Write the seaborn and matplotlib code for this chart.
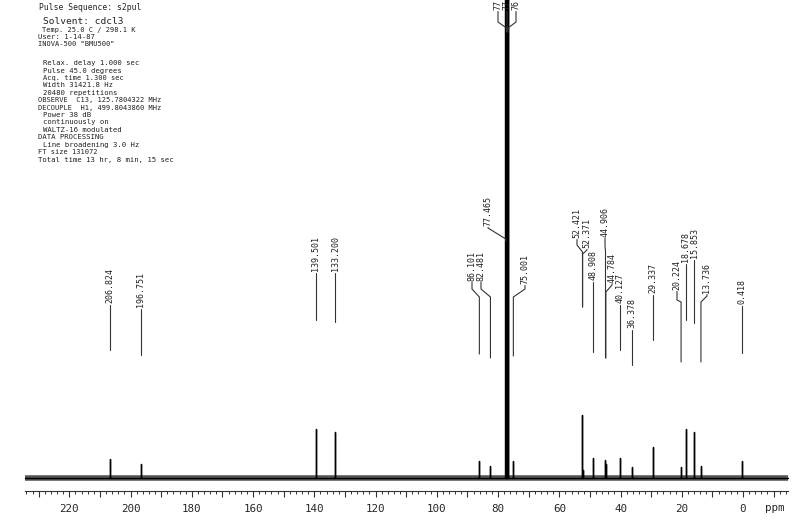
import numpy as np
import pandas as pd
import matplotlib
matplotlib.use('Agg')
import matplotlib.pyplot as plt
import seaborn as sns
from matplotlib.ticker import FixedLocator, FuncFormatter

shifts = [206.824, 196.751, 139.501, 133.200, 86.101, 82.481, 77.465, 77.254, 77.000,
          76.746, 75.001, 52.421, 52.371, 48.908, 44.906, 44.784, 40.127, 36.378,
          29.337, 20.224, 18.678, 15.853, 13.736, 0.418]
heights = [19, 14, 49, 46, 17, 12, 600, 600, 600, 600, 17, 63, 8, 20, 18, 14, 20, 11,
           31, 11, 49, 46, 12, 17]
solvent = [77.465, 77.254, 77.000, 76.746]
tick_labels = [220, 200, 180, 160, 140, 120, 100, 80, 60, 40, 20, 0]

header = ['Pulse Sequence: s2pul', 'Solvent: cdcl3', 'Temp. 25.0 C / 298.1 K', 'User: 1-14-87',
          'INOVA-500 "BMU500"', 'Relax. delay 1.000 sec', 'Pulse 45.0 degrees',
          'Acq. time 1.300 sec', 'Width 31421.8 Hz', '20480 repetitions',
          'OBSERVE  C13, 125.7804322 MHz', 'DECOUPLE  H1, 499.8043860 MHz', 'Power 38 dB',
          'continuously on', 'WALTZ-16 modulated', 'DATA PROCESSING',
          'Line broadening 3.0 Hz', 'FT size 131072', 'Total time 13 hr, 8 min, 15 sec']

# ---- layout (pixels da imagem) ----
header_pos = [(39, 8, 5.8), (43, 21, 6.8), (42, 30, 5.0), (38, 37, 5.2), (38, 44, 5.0),
              (43, 63, 5.2), (43, 71, 5.2), (43, 78, 5.0), (43, 85, 5.2), (43, 93, 5.2),
              (38, 100, 5.0), (38, 108, 5.0), (43, 115, 5.2), (43, 122, 5.2), (43, 130, 5.2),
              (38, 137, 5.2), (43, 145, 5.2), (38, 152, 5.0), (38, 160, 5.2)]
# shift: (x do rotulo ou None, base do texto, joelho1, joelho2, fim da linha)
label_layout = {
    206.824: (None, 303, None, None, 350), 196.751: (None, 307, None, None, 355),
    139.501: (None, 271, None, None, 320), 133.200: (None, 271, None, None, 322),
    86.101: (472, 281, 289, 297, 354), 82.481: (481, 281, 289, 297, 358),
    77.465: (488, 226, 228, 239, 241), 77.254: (498, 10, 22, 28, 32),
    77.000: (507, 10, 22, 28, 32), 76.746: (516, 10, 22, 28, 32),
    75.001: (525, 284, 289, 297, 356), 52.421: (577, 238, 245, 252, 307),
    52.371: (587, 248, 250, 254, 307), 48.908: (None, 280, None, None, 352),
    44.906: (605, 237, 246, 251, 358), 44.784: (612, 283, 285, 292, 358),
    40.127: (None, 303, None, None, 350), 36.378: (None, 328, None, None, 365),
    29.337: (None, 293, None, None, 340), 20.224: (677, 290, 300, 302, 362),
    18.678: (None, 262, None, None, 320), 15.853: (None, 258, None, None, 323),
    13.736: (707, 293, 296, 302, 362), 0.418: (None, 304, None, None, 353),
}
BASE_Y = 478
AXIS_Y = 491


def px_ppm(x):
    return (743 - x) / 3.062


def py_u(y):
    return BASE_Y - y


sns.set_style('white')
plt.rcParams['font.family'] = ['DejaVu Sans Mono']

fig = plt.figure(figsize=(8, 5.2), dpi=100)
ax = fig.add_axes([0, 0, 1, 1])

# traço do espectro (linhas de pico sobre a linha de base)
order = sorted(range(len(shifts)), key=lambda i: -shifts[i])
xs = [px_ppm(25)]
ys = [0]
for i in order:
    xs += [shifts[i], shifts[i], shifts[i]]
    ys += [0, heights[i], 0]
xs.append(px_ppm(788))
ys.append(0)
df = pd.DataFrame({'ppm': xs, 'intens': ys})

ax.hlines(0, px_ppm(788), px_ppm(25), color='#555555', lw=4.0)
sns.lineplot(data=df, x='ppm', y='intens', sort=False, estimator=None,
             color='black', lw=1.0, ax=ax)
ax.vlines(solvent, 0, 600, color='black', lw=1.6)

# rotulos dos picos
for s in shifts:
    lx, tb, k1, k2, end = label_layout[s]
    if lx is None:
        ax.plot([s, s], [py_u(tb + 1.5), py_u(end)], color='#333333', lw=0.8)
        xl = s
    else:
        xl = px_ppm(lx)
        ax.plot([xl, xl, s, s], [py_u(tb + 1.5), py_u(k1), py_u(k2), py_u(end)],
                color='#333333', lw=0.8)
    ax.text(xl, py_u(tb), f'{s:.3f}', rotation=90, ha='center', va='bottom',
            fontsize=6.0, color='#222222')

ax.set_xlim(px_ppm(0), px_ppm(800))
ax.set_ylim(py_u(520), py_u(0))
ax.set_xlabel('')
ax.set_ylabel('')
ax.set_yticks([])
for side in ['top', 'left', 'right']:
    ax.spines[side].set_visible(False)
ax.spines['bottom'].set_position(('data', py_u(AXIS_Y)))
ax.spines['bottom'].set_bounds(px_ppm(788), px_ppm(25))
ax.spines['bottom'].set_linewidth(0.8)
ax.spines['bottom'].set_color('#333333')
ax.xaxis.set_major_locator(FixedLocator(np.arange(-10, 231, 10)))
ax.xaxis.set_minor_locator(FixedLocator(np.arange(-14, 235, 2)))
ax.xaxis.set_major_formatter(FuncFormatter(
    lambda v, p: f'{int(round(v))}' if int(round(v)) in tick_labels else ''))
ax.tick_params(axis='x', which='major', direction='out', length=4, width=0.8,
               color='#333333', labelsize=7.8, pad=5, bottom=True)
ax.tick_params(axis='x', which='minor', direction='out', length=2.5, width=0.7,
               color='#333333', bottom=True)
ax.text(px_ppm(775), py_u(508), 'ppm', fontsize=7.8, ha='center', va='center')

for (x, y, fs), line in zip(header_pos, header):
    fig.text(x / 800, 1 - y / 520, line, fontsize=fs, va='center', ha='left', color='#222222')

fig.savefig('out.png', dpi=100)
